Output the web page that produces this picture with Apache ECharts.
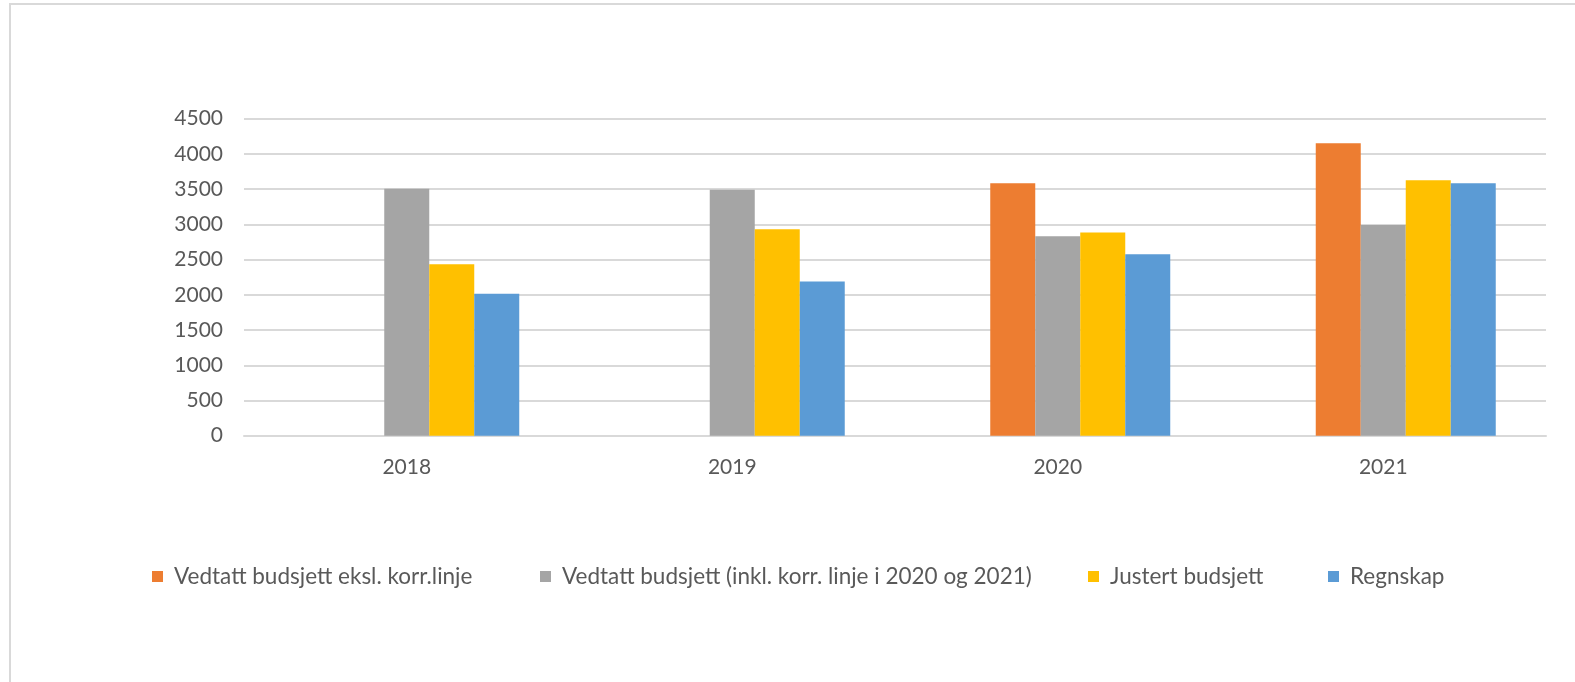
<!DOCTYPE html>
<html>
<head>
<meta charset="utf-8">
<script src="https://cdn.jsdelivr.net/npm/echarts@6/dist/echarts.min.js"></script>
<style>
html,body{margin:0;padding:0;background:#fff;}
#chart{width:1575px;height:682px;}
</style>
</head>
<body>
<div id="chart"></div>
<script>
var categories = ['2018', '2019', '2020', '2021'];
var seriesNames = [
  'Vedtatt budsjett eksl. korr.linje',
  'Vedtatt budsjett (inkl. korr. linje i 2020 og 2021)',
  'Justert budsjett',
  'Regnskap'
];
var vedtattEksl = [null, null, 3585, 4150];
var vedtattInkl = [3505, 3490, 2830, 2990];
var justert = [2435, 2930, 2885, 3625];
var regnskap = [2015, 2190, 2575, 3585];
var emptySlot = [null, null, null, null];
var yTicks = [0, 500, 1000, 1500, 2000, 2500, 3000, 3500, 4000, 4500];

var colors = ['#ED7D31', '#A5A5A5', '#FFC000', '#5B9BD5'];
var FONT = 'Lato';
var values = [vedtattEksl, vedtattInkl, justert, regnskap];

var series = [{
  name: '_empty', type: 'bar', data: emptySlot, barWidth: 45, barGap: '0%',
  itemStyle: {color: 'rgba(0,0,0,0)'}, silent: true
}];
for (var i = 0; i < 4; i++) {
  series.push({
    name: seriesNames[i], type: 'bar', data: values[i], barWidth: 45, barGap: '0%',
    itemStyle: {color: colors[i]}
  });
}

var legendLefts = [147, 535, 1083, 1323];
var legends = seriesNames.map(function (n, i) {
  return {
    data: [n], left: legendLefts[i], top: 565, itemWidth: 11, itemHeight: 11,
    icon: 'rect', itemGap: 0, padding: [0, 0, 0, 5],
    textStyle: {fontFamily: FONT, fontSize: 22.5, color: '#595959', padding: [0, 0, 0, 6]}
  };
});

var chart = echarts.init(document.getElementById('chart'));
chart.setOption({
  animation: false,
  backgroundColor: '#fff',
  graphic: [{
    type: 'rect', shape: {x: 10, y: 4, width: 1600, height: 700},
    style: {fill: 'none', stroke: '#d9d9d9', lineWidth: 2}, silent: true
  }],
  legend: legends,
  grid: {left: 244, right: 29, top: 118.7, bottom: 246.3, containLabel: false},
  xAxis: {
    type: 'category', data: categories,
    axisLine: {lineStyle: {color: '#d9d9d9', width: 2}},
    axisTick: {show: false},
    axisLabel: {fontFamily: FONT, fontSize: 21, color: '#595959', margin: 21}
  },
  yAxis: {
    type: 'value', min: yTicks[0], max: yTicks[yTicks.length - 1], interval: 500,
    axisLine: {show: false}, axisTick: {show: false},
    splitLine: {lineStyle: {color: '#d9d9d9', width: 2}},
    axisLabel: {
      fontFamily: FONT, fontSize: 21, color: '#595959', margin: 21,
      formatter: function (v) { return String(v); }
    }
  },
  series: series
});
</script>
</body>
</html>
